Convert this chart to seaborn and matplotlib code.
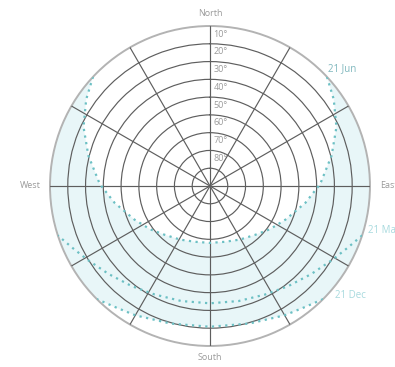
import numpy as np
import matplotlib.pyplot as plt
import seaborn as sns

# Sun paths: azimuth (deg, clockwise from north), elevation (deg)
jun_az = [47, 55, 65, 76, 89, 100, 114, 126, 137, 151, 165, 180,
          195, 209, 223, 234, 246, 260, 271, 284, 295, 305, 313]
jun_el = [0, 5, 11.5, 19.5, 28, 35.5, 43.5, 48.5, 52.5, 55.5, 57.5, 58,
          57.5, 55.5, 52.5, 48.5, 43.5, 35.5, 28, 19.5, 11.5, 5, 0]

mar_az = [108, 114, 121, 131, 142, 153, 166, 180, 194, 207, 218, 229, 239, 246, 252]
mar_el = [0, 5, 9.5, 14.5, 18.5, 21.5, 23.3, 24, 23.3, 21.5, 18.5, 14.5, 9.5, 5, 0]

dec_az = [135, 142, 150, 164, 180, 196, 210, 218, 225]
dec_el = [0, 3.5, 6, 9.5, 10.8, 9.5, 6, 3.5, 0]

ring_labels = [10, 20, 30, 40, 50, 60, 70, 80]
compass = ["North", "East", "South", "West"]

sns.set_style("white")
plt.rcParams['font.family'] = ['Open Sans', 'DejaVu Sans']

fig = plt.figure(figsize=(3.95, 3.67), dpi=100)
ax = fig.add_axes([0.1266, 0.0572, 0.810, 0.872], projection='polar')
ax.set_theta_zero_location('N')
ax.set_theta_direction(-1)
ax.set_ylim(0, 90)

# grid: rings every 10 deg of elevation, spokes every 30 deg
ax.set_rticks([90 - e for e in ring_labels])
ax.set_thetagrids(range(0, 360, 30))
ax.set_xticklabels([])
ax.set_yticklabels([])
ax.set_axisbelow(False)
ax.grid(True, color='#5e5e5e', linewidth=0.85)
ax.spines['polar'].set_color('#b3b3b3')
ax.spines['polar'].set_linewidth(1.4)

# shaded band between June and December paths (above the horizon)
def zen(el):
    return 90 - np.asarray(el, dtype=float)

arc_w = np.linspace(jun_az[-1], dec_az[-1], 40)
arc_e = np.linspace(dec_az[0], jun_az[0], 40)
band_t = np.radians(np.concatenate([jun_az, arc_w, dec_az[::-1], arc_e]))
band_r = np.concatenate([zen(jun_el), np.full(40, 90.0), zen(dec_el[::-1]), np.full(40, 90.0)])
ax.fill(band_t, band_r, color='#e8f6f8', linewidth=0, zorder=1)

dot = (0, (1, 2))
for az, el in [(jun_az, jun_el), (mar_az, mar_el), (dec_az, dec_el)]:
    sns.lineplot(x=np.radians(az), y=zen(el), ax=ax, sort=False, color='#6cc0c4',
                 linewidth=1.6, linestyle=dot, zorder=3)

# elevation labels along the north spoke
for v in ring_labels:
    ax.annotate(f"{v}°", xy=(0, 95.5 - v), xytext=(2.5, 0), textcoords='offset points',
                ha='left', va='center', fontsize=6.5, color='#9a9a9a', annotation_clip=False)

# compass labels
ax.text(0, 97, compass[0], ha='center', va='center', fontsize=6.5, color='#9a9a9a')
ax.text(np.radians(90), 95.6, compass[1], ha='left', va='center', fontsize=6.5, color='#9a9a9a')
ax.text(np.radians(180), 96.5, compass[2], ha='center', va='center', fontsize=6.5, color='#9a9a9a')
ax.text(np.radians(270), 95, compass[3], ha='right', va='center', fontsize=6.5, color='#9a9a9a')

# path labels
ax.text(np.radians(48.3), 99.4, "21 Jun", ha='center', va='center', fontsize=7, color='#7fb7bd', clip_on=False)
ax.text(np.radians(105.7), 92.3, "21 Mar", ha='left', va='center', fontsize=7, color='#a8dade', clip_on=False)
ax.text(np.radians(131.2), 93.5, "21 Dec", ha='left', va='center', fontsize=7, color='#a8dade', clip_on=False)

fig.savefig("out.png", dpi=100)
